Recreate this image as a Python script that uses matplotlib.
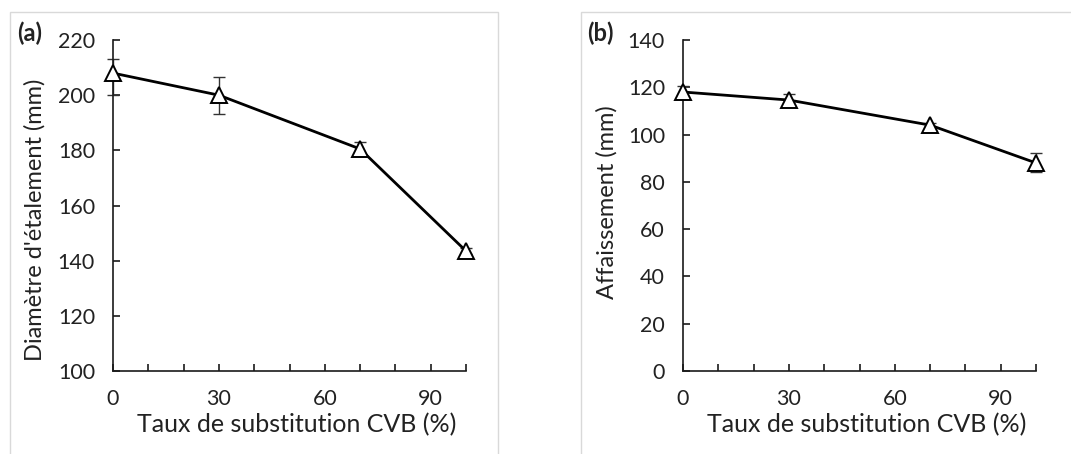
import matplotlib
matplotlib.use("Agg")
import matplotlib.pyplot as plt
from matplotlib.patches import Rectangle
from matplotlib.ticker import FixedLocator, FuncFormatter

# ---- data ----
taux = [0, 30, 70, 100]
diametre = [208, 200, 180.5, 143.5]
diametre_err_low = [8, 6.7, 2.5, 1.0]
diametre_err_high = [5, 6.7, 2.5, 1.0]
affaissement = [118, 114.6, 104, 88]
affaissement_err = [2.5, 2.5, 1.0, 4.0]

x_ticks = list(range(0, 101, 10))
x_labels_shown = [0, 30, 60, 90]
xlabel = "Taux de substitution CVB (%)"
ylabel_a = "Diamètre d'étalement (mm)"
ylabel_b = "Affaissement (mm)"

plt.rcParams['font.family'] = ['Lato', 'DejaVu Sans']
txt_color = '#222222'

fig = plt.figure(figsize=(10.71, 4.54), dpi=100)
W, H = 1071, 454

# panel borders
fig.patches.append(Rectangle((10 / W, -0.01), (498 - 10) / W, 1 - 12 / H + 0.01,
                             transform=fig.transFigure, fill=False,
                             edgecolor='#d9d9d9', linewidth=1.0))
fig.patches.append(Rectangle((581 / W, -0.01), (1080 - 581) / W, 1 - 12 / H + 0.01,
                             transform=fig.transFigure, fill=False,
                             edgecolor='#d9d9d9', linewidth=1.0))

ax_bottom = 83 / H
ax_height = 331 / H
ax_width = 353 / W
axA = fig.add_axes([113 / W, ax_bottom, ax_width, ax_height])
axB = fig.add_axes([683 / W, ax_bottom, ax_width, ax_height])


def fmt(v, pos):
    iv = int(round(v))
    return str(iv) if iv in x_labels_shown else ''


def style(ax, yticks, ylabel, ylab_x, ylab_y):
    ax.set_xlim(0, 100)
    ax.set_ylim(yticks[0], yticks[-1])
    ax.xaxis.set_major_locator(FixedLocator(x_ticks))
    ax.xaxis.set_major_formatter(FuncFormatter(fmt))
    ax.set_yticks(yticks)
    for s in ['top', 'right']:
        ax.spines[s].set_visible(False)
    for s in ['left', 'bottom']:
        ax.spines[s].set_linewidth(1.2)
        ax.spines[s].set_color('#1a1a1a')
    ax.tick_params(axis='x', direction='in', length=5, width=1.2, pad=13,
                   labelsize=15.5, labelcolor=txt_color, color='#1a1a1a')
    ax.tick_params(axis='y', direction='in', length=5, width=1.2, pad=13,
                   labelsize=15.5, labelcolor=txt_color, color='#1a1a1a')
    ax.set_xlabel(xlabel, fontsize=18, color=txt_color)
    ax.xaxis.set_label_coords(0.52, -0.163)
    ax.xaxis.label.set_va('center')
    ax.set_ylabel(ylabel, fontsize=17, color=txt_color)
    ax.yaxis.set_label_coords(ylab_x, ylab_y)
    ax.yaxis.label.set_va('center')


axA.errorbar(taux, diametre, yerr=[diametre_err_low, diametre_err_high],
             fmt='none', ecolor='#333333', elinewidth=1.0, capsize=4,
             capthick=1.0, clip_on=False, zorder=2)
axA.plot(taux, diametre, color='black', linewidth=2.0, marker='^',
         markersize=11, markerfacecolor='white', markeredgecolor='black',
         markeredgewidth=1.4, clip_on=False, zorder=3)
style(axA, list(range(100, 221, 20)), ylabel_a, -0.221, 0.456)

axB.errorbar(taux, affaissement, yerr=affaissement_err,
             fmt='none', ecolor='#333333', elinewidth=1.0, capsize=4,
             capthick=1.0, clip_on=False, zorder=2)
axB.plot(taux, affaissement, color='black', linewidth=2.0, marker='^',
         markersize=11, markerfacecolor='white', markeredgecolor='black',
         markeredgewidth=1.4, clip_on=False, zorder=3)
style(axB, list(range(0, 141, 20)), ylabel_b, -0.215, 0.51)

fig.text(17 / W, 1 - 33 / H, "(a)", fontsize=17, fontweight='bold',
         color=txt_color, ha='left', va='center')
fig.text(587 / W, 1 - 33 / H, "(b)", fontsize=17, fontweight='bold',
         color=txt_color, ha='left', va='center')

fig.savefig("out.png", dpi=100)
